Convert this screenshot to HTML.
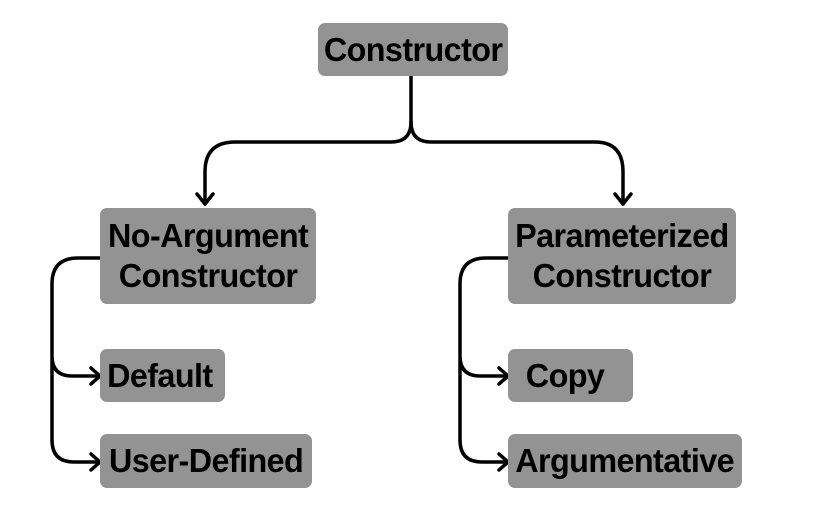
<!DOCTYPE html>
<html><head><style>
body{margin:0;background:#fff;width:824px;height:509px;overflow:hidden;position:relative;font-family:"Liberation Sans",sans-serif}
.b{position:absolute;background:#939393;border-radius:7px;display:flex;align-items:center;justify-content:center;text-align:center;font-weight:bold;font-size:33px;line-height:40px;color:#000;letter-spacing:-0.6px}
.b span{display:inline-block;transform:scaleX(0.98);white-space:nowrap}
svg{position:absolute;left:0;top:0}
</style></head><body>
<svg width="824" height="509" fill="none" stroke="#000" stroke-width="3.5" stroke-linecap="round" stroke-linejoin="round">
<path d="M411 76 V122 Q411 142 391 142 H235 Q205 142 205 172 V204"/>
<path d="M411 122 Q411 142 431 142 H595 Q623 142 623 172 V204"/>
<path d="M197 194 L205 204 L213 194 M615 194 L623 204 L631 194"/>
<path d="M100 258 H78 Q52 258 52 284 V440 Q52 462 74 462 H99 M52 356 Q52 376 72 376 H99"/>
<path d="M508 258 H486 Q460 258 460 284 V440 Q460 462 482 462 H507 M460 356 Q460 376 480 376 H507"/>
<path d="M91 368 L100 376 L91 384 M91 454 L100 462 L91 470 M499 368 L508 376 L499 384 M499 454 L508 462 L499 470"/>
</svg>
<div class="b" style="left:318px;top:23px;width:190px;height:53px"><span>Constructor</span></div>
<div class="b" style="left:100px;top:208px;width:216px;height:96px"><span>No-Argument<br>Constructor</span></div>
<div class="b" style="left:508px;top:208px;width:228px;height:96px"><span>Parameterized<br>Constructor</span></div>
<div class="b" style="left:100px;top:349px;width:125px;height:53px"><span style="margin-left:-6px">Default</span></div>
<div class="b" style="left:100px;top:434px;width:212px;height:54px"><span>User-Defined</span></div>
<div class="b" style="left:508px;top:349px;width:125px;height:53px"><span style="margin-left:-10px">Copy</span></div>
<div class="b" style="left:508px;top:434px;width:234px;height:54px"><span>Argumentative</span></div>
</body></html>
